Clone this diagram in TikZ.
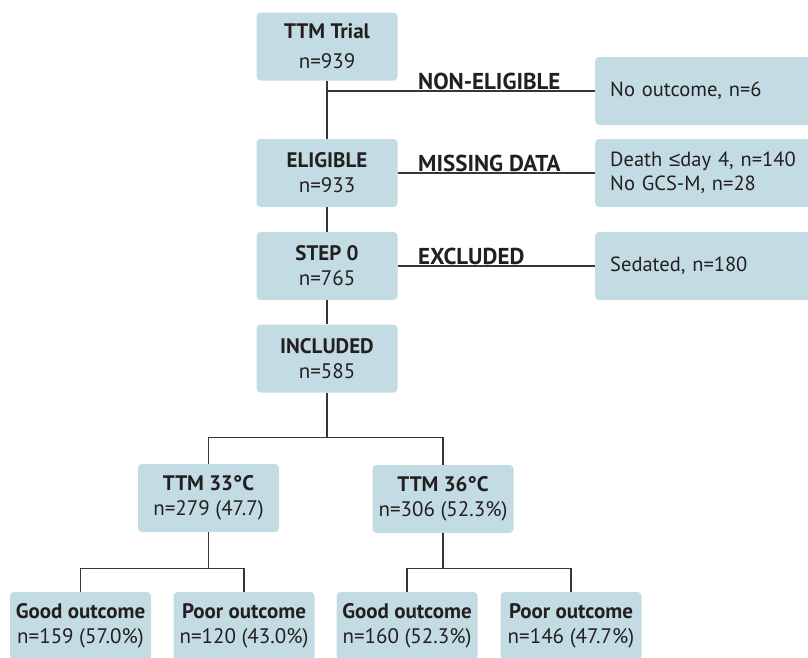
\documentclass[tikz,border=0pt]{standalone}
\usepackage{fontspec}
\setmainfont{PT Sans}
\newfontfamily\symfont{Liberation Sans}
\usepackage{tikz}
\usetikzlibrary{positioning}
\definecolor{flowblue}{RGB}{195,220,228}
\definecolor{flowdark}{RGB}{35,31,32}

\begin{document}
\begin{tikzpicture}[
    x=1pt, y=-1pt,
    box/.style={rectangle, rounded corners=4pt, fill=flowblue, minimum width=141pt, minimum height=68pt, inner sep=0pt, align=center, text=flowdark, font=\fontsize{21}{25}\selectfont},
    sidebox/.style={rectangle, rounded corners=4pt, fill=flowblue, anchor=west, minimum height=68pt, text width=205pt, inner xsep=15pt, inner ysep=0pt, align=left, text=flowdark, font=\fontsize{20.5}{24}\selectfont},
    link/.style={line width=1.2pt, draw=flowdark!90},
    exitlabel/.style={font=\bfseries\fontsize{23}{24}\selectfont, text=flowdark, anchor=base west, inner sep=0pt}
]
    \useasboundingbox (0,0) rectangle (808,657);
    \clip (0,0) rectangle (808,657);

    % Nodes
    \node[box] (trial) at (327,46.5) {{\bfseries TTM Trial}\\[5pt]n=939};
    \node[box] (eligible) at (327,173) {{\bfseries ELIGIBLE}\\n=933};
    \node[box] (step0) at (327,266) {{\bfseries STEP 0}\\n=765};
    \node[box] (included) at (327,358.5) {{\bfseries INCLUDED}\\n=585};
    \node[box] (ttm33) at (208.5,498) {{\bfseries TTM 33°C}\\n=279 (47.7)};
    \node[box] (ttm36) at (443,499) {{\bfseries TTM 36°C}\\n=306 (52.3\%)};
    \node[box] (good33) at (80.5,626) {{\bfseries Good outcome}\\n=159 (57.0\%)};
    \node[box] (poor33) at (244,626) {{\bfseries Poor outcome}\\n=120 (43.0\%)};
    \node[box] (good36) at (407,626) {{\bfseries Good outcome}\\n=160 (52.3\%)};
    \node[box] (poor36) at (571,626) {{\bfseries Poor outcome}\\n=146 (47.7\%)};

    % Excluded patients
    \node[sidebox] (noout) at (595,91) {No outcome, n=6};
    \node[sidebox] (missing) at (595,173) {Death {\symfont ≤}day 4, n=140\\No GCS-M, n=28};
    \node[sidebox] (sedated) at (595,266) {Sedated, n=180};

    % Lines
    \draw[link] (trial) -- (eligible);
    \draw[link] (eligible) -- (step0);
    \draw[link] (step0) -- (included);
    \coordinate (split) at (trial.south |- noout.west);
    \draw[link] (split) -- (noout.west);
    \draw[link] (eligible.east) -- (missing.west);
    \draw[link] (step0.east) -- (sedated.west);

    \draw[link] (included.south) -- ++(0,45) -| (ttm33.north);
    \draw[link] (included.south) -- ++(0,45) -| (ttm36.north);
    \draw[link] (ttm33.south) -- ++(0,36) -| (good33.north);
    \draw[link] (ttm33.south) -- ++(0,36) -| (poor33.north);
    \draw[link] (ttm36.south) -- ++(0,35) -| (good36.north);
    \draw[link] (ttm36.south) -- ++(0,35) -| (poor36.north);

    % Labels
    \node[exitlabel] (nonelig) at (418,89) {NON-ELIGIBLE};
    \node[exitlabel] (missdata) at (418,171.5) {MISSING DATA};
    \node[exitlabel] (excl) at (418,264.5) {EXCLUDED};
\end{tikzpicture}
\end{document}
